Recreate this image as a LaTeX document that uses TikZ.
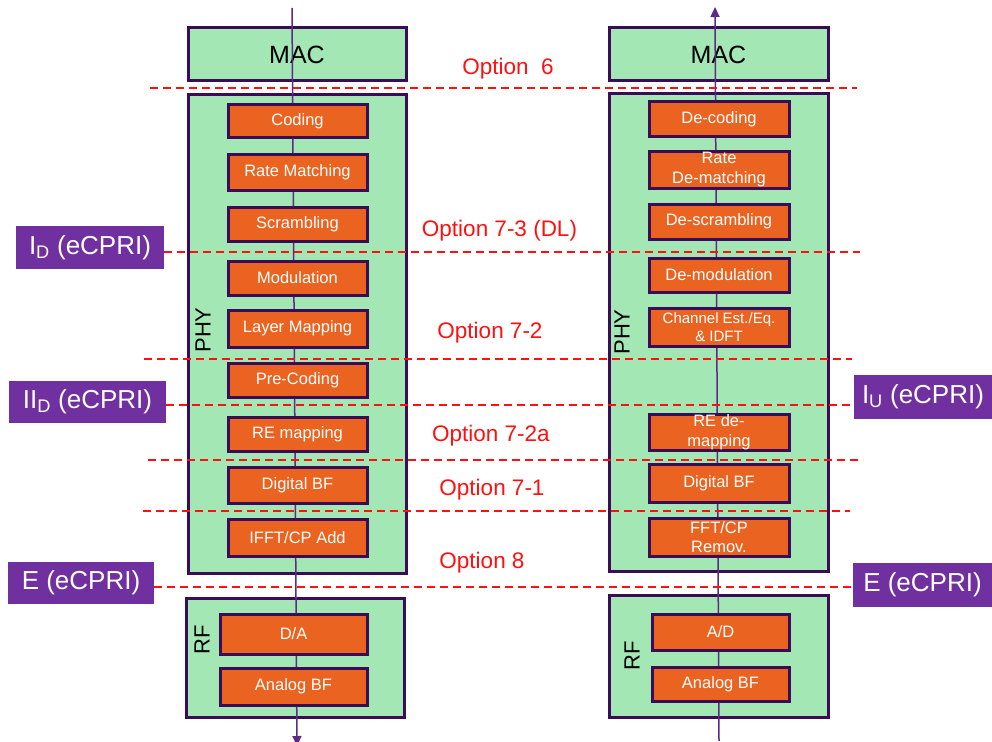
\documentclass[tikz,border=0pt]{standalone}
\usepackage{fontspec}
\setmainfont{Liberation Sans}
\usetikzlibrary{arrows.meta}
\definecolor{grn}{HTML}{A3E7B4}
\definecolor{org}{HTML}{EA6320}
\definecolor{brd}{HTML}{3A0C56}
\definecolor{lab}{HTML}{7030A0}
\definecolor{wire}{HTML}{5E2A84}
\definecolor{opt}{HTML}{FF1010}
\begin{document}
\begin{tikzpicture}[x=1pt,y=-1pt,
 greenbox/.style={draw=brd, fill=grn, line width=3pt, inner sep=0pt, outer sep=0pt},
 orangebox/.style={draw=brd, fill=org, line width=3pt, inner sep=0pt, text=white,
   font=\fontsize{16.5}{19.5}\selectfont, align=center, minimum width=139pt},
 labelbox/.style={fill=lab, text=white, font=\fontsize{26}{30}\selectfont, inner sep=0pt},
 optlabel/.style={text=opt, font=\fontsize{22.5}{26}\selectfont, inner sep=0pt},
 cut/.style={draw=opt, line width=1.3pt, dash pattern=on 8pt off 5pt},
 wireline/.style={draw=wire, line width=1.5pt},
 sidetext/.style={rotate=90, font=\fontsize{22}{26}\selectfont, inner sep=0pt},
 tip/.style={-{Triangle[length=10pt,width=9pt]}}
]
\useasboundingbox (0,0) rectangle (992,741);

% ---- green containers ----
\node[greenbox, minimum width=218pt, minimum height=53pt, font=\fontsize{25}{30}\selectfont] (macL) at (297,54.5) {MAC};
\node[greenbox, minimum width=218pt, minimum height=478pt] (phyL) at (297,334) {};
\node[greenbox, minimum width=218pt, minimum height=119pt] (rfL) at (295,657.5) {};
\node[greenbox, minimum width=219pt, minimum height=53pt, font=\fontsize{25}{30}\selectfont] (macR) at (718.5,54.5) {MAC};
\node[greenbox, minimum width=219pt, minimum height=477pt] (phyR) at (718.5,332.5) {};
\node[greenbox, minimum width=219pt, minimum height=122pt] (rfR) at (718.5,656) {};

\node[sidetext] (phyLt) at (203,330) {PHY};
\node[sidetext] (rfLt) at (202,640) {RF};
\node[sidetext] (phyRt) at (622,332) {PHY};
\node[sidetext] (rfRt) at (632,656) {RF};

% ---- signal wires ----
\coordinate (inL) at (292,8);
\coordinate (outL) at (297,746);
\coordinate (inR) at (719,741);
\coordinate (outR) at (715,7);
\draw[wireline, tip] (inL) -- (outL);
\draw[wireline, tip] (inR) -- (outR);

% ---- left chain ----
\node[orangebox, minimum height=32pt] (coding) at (297.5,121) {Coding};
\node[orangebox, minimum height=36pt] (ratem) at (297.5,172) {Rate Matching};
\node[orangebox, minimum height=34pt] (scram) at (297.5,224) {Scrambling};
\node[orangebox, minimum height=34pt] (modu) at (297.5,278) {Modulation};
\node[orangebox, minimum height=37pt] (layer) at (297.5,328.5) {Layer Mapping};
\node[orangebox, minimum height=34pt] (precod) at (297.5,380) {Pre-Coding};
\node[orangebox, minimum height=34pt] (remap) at (297.5,434) {RE mapping};
\node[orangebox, minimum height=36pt] (dbfL) at (297.5,485) {Digital BF};
\node[orangebox, minimum height=37pt] (ifft) at (297.5,537.5) {IFFT/CP Add};
\node[orangebox, minimum width=147pt, minimum height=40pt] (da) at (293.5,634) {D/A};
\node[orangebox, minimum width=147pt, minimum height=37pt] (abfL) at (293.5,686.5) {Analog BF};

% ---- right chain ----
\node[orangebox, minimum width=140pt, minimum height=34pt] (decod) at (719,119) {De-coding};
\node[orangebox, minimum width=140pt, minimum height=37pt] (ratedm) at (719,169.5) {Rate\\De-matching};
\node[orangebox, minimum width=140pt, minimum height=35pt] (descr) at (719,221.5) {De-scrambling};
\node[orangebox, minimum width=140pt, minimum height=34pt] (demod) at (719,275) {De-modulation};
\node[orangebox, minimum width=140pt, minimum height=38pt, font=\fontsize{15}{18}\selectfont] (chest) at (719,327) {Channel Est./Eq.\\\& IDFT};
\node[orangebox, minimum width=140pt, minimum height=36pt] (redm) at (719,432) {RE de-\\mapping};
\node[orangebox, minimum width=140pt, minimum height=38pt] (dbfR) at (719,483) {Digital BF};
\node[orangebox, minimum width=140pt, minimum height=38pt] (fft) at (719,537) {FFT/CP\\Remov.};
\node[orangebox, minimum width=137pt, minimum height=36pt] (ad) at (720.5,632) {A/D};
\node[orangebox, minimum width=137pt, minimum height=34pt] (abfR) at (720.5,684) {Analog BF};

% ---- interface labels ----
\node[labelbox, minimum width=148pt, minimum height=43pt] (ID) at (90,247.5) {I\textsubscript{D} (eCPRI)};
\node[labelbox, minimum width=157pt, minimum height=42pt] (IID) at (87.5,402) {II\textsubscript{D} (eCPRI)};
\node[labelbox, minimum width=146pt, minimum height=42pt] (EL) at (81,583) {E (eCPRI)};
\node[labelbox, minimum width=138pt, minimum height=44pt] (IU) at (923,397) {I\textsubscript{U} (eCPRI)};
\node[labelbox, minimum width=139pt, minimum height=44pt] (ER) at (922.5,585) {E (eCPRI)};

% ---- split options ----
\node[optlabel] (o6) at (508,69) {Option\ \ 6};
\node[optlabel] (o73) at (499.5,231) {Option 7-3 (DL)};
\node[optlabel] (o72) at (490,333) {Option 7-2};
\node[optlabel] (o72a) at (491,436) {Option 7-2a};
\node[optlabel] (o71) at (492,490) {Option 7-1};
\node[optlabel] (o8) at (482,563) {Option 8};

\coordinate (c6a) at (150,88);  \coordinate (c6b) at (857,88);
\coordinate (c73b) at (860,252);
\coordinate (c72a) at (144,359); \coordinate (c72b) at (852,359);
\coordinate (cII) at (0,405);
\coordinate (c2aa) at (148,460); \coordinate (c2ab) at (863,460);
\coordinate (c71a) at (143,511); \coordinate (c71b) at (850,511);
\coordinate (cE) at (0,587);

\draw[cut] (c6a) -- (c6b);
\draw[cut] (ID.east |- c73b) -- (c73b);
\draw[cut] (c72a) -- (c72b);
\draw[cut] (IID.east |- cII) -- (IU.west |- cII);
\draw[cut] (c2aa) -- (c2ab);
\draw[cut] (c71a) -- (c71b);
\draw[cut] (EL.east |- cE) -- (ER.west |- cE);
\end{tikzpicture}
\end{document}
